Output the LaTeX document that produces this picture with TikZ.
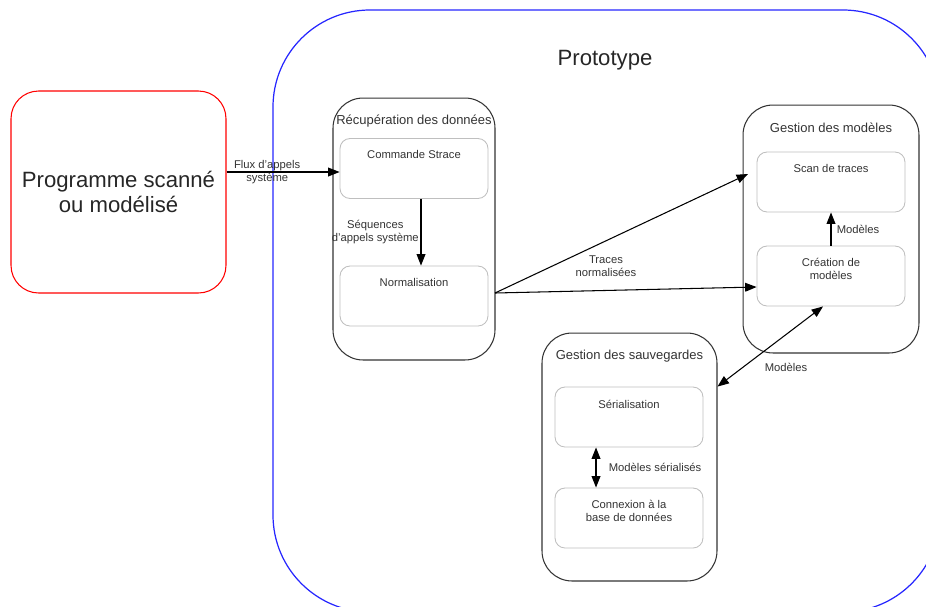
\documentclass[tikz,border=0pt]{standalone}
\usepackage{fontspec}
\setmainfont{Liberation Sans}
\usetikzlibrary{arrows.meta}

\begin{document}
\begin{tikzpicture}[x=0.02cm, y=-0.02cm,
        box/.style={draw=black!80, line width=0.6pt, rounded corners=0.6cm, inner sep=0pt},
        sub/.style={draw=black!25, line width=0.5pt, rounded corners=0.2cm, minimum width=2.96cm, minimum height=1.2cm, inner sep=0pt},
        txt/.style={text=black!80, font=\fontsize{6.4}{7.4}\selectfont, align=center, inner sep=0pt},
        ttl/.style={text=black!80, font=\fontsize{7.4}{8.5}\selectfont, inner sep=0pt},
        big/.style={text=black!85, font=\fontsize{12.6}{14.7}\selectfont, align=center},
        arr/.style={-{Triangle[length=6.5pt, width=5pt]}, line width=0.6pt},
        darr/.style={{Triangle[length=6.5pt, width=5pt]}-{Triangle[length=6.5pt, width=5pt]}, line width=0.6pt}]
        \useasboundingbox (0, 0) rectangle (926, 606);
        \clip (0, 0) rectangle (926, 606);
        \draw [blue!85, line width=0.7pt, rounded corners=1.94cm] (273, 10) rectangle (940, 612);
        \node (proto) at (605, 60) [big] {Prototype};
        \node (prog) at (118.5, 192) [box, draw=red, rounded corners=0.55cm, minimum width=4.3cm, minimum height=4.04cm, big] {Programme scanné\\ou modélisé};
        \node (rec) at (414, 229) [box, minimum width=3.24cm, minimum height=5.24cm] {};
        \node (rectitle) at (414, 121) [ttl] {Récupération des données};
        \node (strace) at (414, 168.5) [sub] {};
        \node (stracetxt) at (414, 154) [txt] {Commande Strace};
        \node (norm) at (414, 296) [sub] {};
        \node (normtxt) at (414, 282) [txt] {Normalisation};
        \node (gm) at (831, 229) [box, minimum width=3.52cm, minimum height=4.96cm] {};
        \node (gmtitle) at (831, 128) [ttl] {Gestion des modèles};
        \node (scan) at (831, 182) [sub] {};
        \node (scantxt) at (831, 168) [txt] {Scan de traces};
        \node (crea) at (831, 276) [sub] {};
        \node (creatxt) at (831, 268.5) [txt] {Création de\\modèles};
        \node (gs) at (629.5, 457) [box, minimum width=3.5cm, minimum height=4.96cm] {};
        \node (gstitle) at (629.5, 356) [ttl] {Gestion des sauvegardes};
        \node (seri) at (629, 417) [sub] {};
        \node (seritxt) at (629, 404) [txt] {Sérialisation};
        \node (conn) at (629, 518) [sub] {};
        \node (conntxt) at (629, 511) [txt] {Connexion à la\\base de données};
        \coordinate (trout) at (495, 293);
        \coordinate (trin) at (748, 174);
        \draw (prog.east |- 0, 172) edge [arr] node [txt, pos=0.36] {Flux d'appels\\système} (strace.west |- 0, 172);
        \draw ([xshift=0.14cm]strace.south) edge [arr] node [txt, left=1pt] {Séquences\\d'appels système} ([xshift=0.14cm]norm.north);
        \draw (trout) edge [arr] (trin);
        \draw (trout) edge [arr] ([yshift=-0.22cm]crea.west);
        \node (trtxt) at (606, 266.5) [txt] {Traces\\normalisées};
        \draw (crea.north) edge [arr] node [txt, right=3pt] {Modèles} (scan.south);
        \draw (gs.east |- seri.north) edge [darr] ([xshift=-0.16cm]crea.south);
        \node (modtxt) at (786, 367) [txt] {Modèles};
        \draw ([xshift=-0.66cm]seri.south) edge [darr] node [txt, right=7pt] {Modèles sérialisés} ([xshift=-0.66cm]conn.north);
    \end{tikzpicture}
\end{document}
